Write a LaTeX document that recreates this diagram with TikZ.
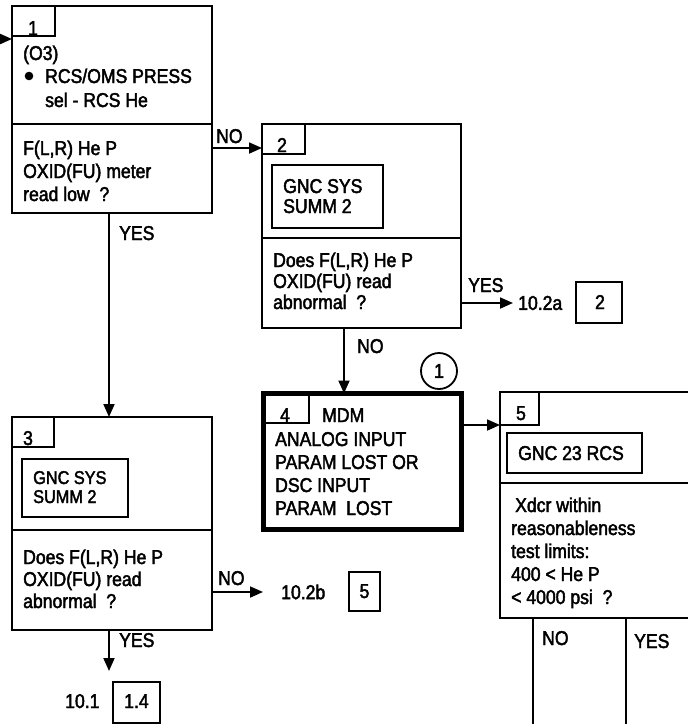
\documentclass[tikz,border=0pt]{standalone}
\usepackage{fontspec}
\setmainfont{Liberation Sans}[FakeStretch=0.88, FakeBold=2.2]
\usetikzlibrary{arrows.meta}
\begin{document}
\begin{tikzpicture}[x=1pt,y=-1pt,
  box/.style={draw, line width=1.8pt, rectangle, inner sep=0pt, outer sep=0pt, anchor=north west},
  thickbox/.style={box, line width=4.8pt},
  txt/.style={anchor=base west, inner sep=0pt, font=\fontsize{20}{23}\selectfont},
  smalltxt/.style={txt, font=\fontsize{18.5}{21}\selectfont},
  num/.style={anchor=base, inner sep=0pt, font=\fontsize{20}{23}\selectfont},
  arr/.style={line width=1.8pt, -{Triangle[length=13pt,width=11pt]}},
  ln/.style={line width=1.8pt}]
\useasboundingbox (0,0) rectangle (688,724);
\clip (0,0) rectangle (688,724);

% ---------- box 1 ----------
\node[box, minimum width=200pt, minimum height=118pt] (b1t) at (12,6) {};
\node[box, minimum width=200pt, minimum height=89pt] (b1b) at (12,124) {};
\node[box, minimum width=43pt, minimum height=30pt] (l1) at (12,6) {};
\node[num] (n1) at (33,35) {1};
\node[txt] (t1a) at (23,60) {(O3)};
\fill (29,76) circle (4.3pt);
\node[txt] (t1b) at (45,83) {RCS/OMS PRESS};
\node[txt] (t1c) at (45,107) {sel - RCS He};
\node[txt] (t1d) at (23,155) {F(L,R) He P};
\node[txt] (t1e) at (23,178) {OXID(FU) meter};
\node[txt] (t1f) at (23,201) {read low\ \ ?};

% ---------- box 2 ----------
\node[box, minimum width=199pt, minimum height=114pt] (b2t) at (262,124) {};
\node[box, minimum width=199pt, minimum height=90pt] (b2b) at (262,238) {};
\node[box, minimum width=43pt, minimum height=30pt] (l2) at (262,124) {};
\node[num] (n2) at (282,152) {2};
\node[box, minimum width=111pt, minimum height=63pt] (g2) at (272,165) {};
\node[txt] (t2a) at (283,193) {GNC SYS};
\node[txt] (t2b) at (283,213) {SUMM 2};
\node[txt] (t2c) at (273,267) {Does F(L,R) He P};
\node[txt] (t2d) at (273,288) {OXID(FU) read};
\node[txt] (t2e) at (273,309) {abnormal\ \ ?};

% ---------- box 3 ----------
\node[box, minimum width=200pt, minimum height=113pt] (b3t) at (12,417) {};
\node[box, minimum width=200pt, minimum height=100pt] (b3b) at (12,530) {};
\node[box, minimum width=42pt, minimum height=30pt] (l3) at (12,417) {};
\node[num] (n3) at (28,445) {3};
\node[box, minimum width=106pt, minimum height=58pt] (g3) at (22,459) {};
\node[smalltxt] (t3a) at (33,484) {GNC SYS};
\node[smalltxt] (t3b) at (33,503) {SUMM 2};
\node[txt] (t3c) at (23,564) {Does F(L,R) He P};
\node[txt] (t3d) at (23,586) {OXID(FU) read};
\node[txt] (t3e) at (23,608) {abnormal\ \ ?};

% ---------- box 4 ----------
\node[thickbox, minimum width=198pt, minimum height=136pt] (b4) at (263.5,393.5) {};
\node[box, minimum width=45.5pt, minimum height=29.5pt] (l4) at (263.5,393.5) {};
\node[num] (n4) at (285,422) {4};
\node[txt] (t4a) at (322,422) {MDM};
\node[txt] (t4b) at (275,446) {ANALOG INPUT};
\node[txt] (t4c) at (275,469) {PARAM LOST OR};
\node[txt] (t4d) at (275,492) {DSC INPUT};
\node[txt] (t4e) at (275,515) {PARAM\ \ LOST};
\node[draw, circle, line width=1.8pt, minimum size=36pt, inner sep=0pt,
      font=\fontsize{20}{23}\selectfont] (c1) at (439,371) {1};

% ---------- box 5 ----------
\node[box, minimum width=220pt, minimum height=91pt] (b5t) at (500,392) {};
\node[box, minimum width=220pt, minimum height=135pt] (b5b) at (500,483) {};
\node[box, minimum width=39pt, minimum height=33pt] (l5) at (500,392) {};
\node[num] (n5) at (521,420) {5};
\node[box, minimum width=135pt, minimum height=40pt] (g5) at (507,433) {};
\node[txt] (t5a) at (518,460) {GNC 23 RCS};
\node[txt] (t5b) at (515,512) {Xdcr within};
\node[txt] (t5c) at (511,535) {reasonableness};
\node[txt] (t5d) at (511,558) {test limits:};
\node[txt] (t5e) at (511,581) {400 < He P};
\node[txt] (t5f) at (511,604) {< 4000 psi\ \ ?};
\coordinate (e5no) at (533,740);
\coordinate (e5yes) at (626,740);
\draw[ln] (b5b.south west -| e5no) -- (e5no);
\draw[ln] (b5b.south west -| e5yes) -- (e5yes);
\node[txt] (no5) at (542,645) {NO};
\node[txt] (yes5) at (634,648) {YES};

% ---------- references ----------
\node[txt, anchor=west] (x2a) at (518,303) {10.2a};
\node[box, minimum width=46pt, minimum height=41pt] (r2a) at (576,282) {};
\node[num] (r2an) at (600,309) {2};
\node[txt, anchor=west] (x2b) at (281,592) {10.2b};
\node[box, minimum width=31pt, minimum height=39pt] (r2b) at (349,572) {};
\node[num] (r2bn) at (364.5,598) {5};
\node[txt] (x1) at (65,708) {10.1};
\node[box, minimum width=47pt, minimum height=41pt] (r14) at (113,682) {};
\node[num] (r14n) at (136.5,708) {1.4};

% ---------- connectors ----------
\coordinate (in1) at (-10,39);
\draw[arr] (in1) -- (in1 -| b1t.west);
\draw[arr] (b1b.east |- 0,148) -- (b2t.west |- 0,148);
\node[txt] (no1) at (216,143) {NO};
\draw[arr] (b1b.south -| 109,0) -- (b3t.north -| 109,0);
\node[txt] (yes1) at (119,240) {YES};
\draw[arr] (b2b.east |- x2a) -- ([xshift=-5pt]x2a.west);
\node[txt] (yes2) at (468,292) {YES};
\draw[arr] (b2b.south -| 344,0) -- (b4.north -| 344,0);
\node[txt] (no2) at (357,353) {NO};
\draw[arr] (b4.east |- 0,425) -- (b5t.west |- 0,425);
\draw[arr] (b3b.east |- x2b) -- ([xshift=-18pt]x2b.west);
\node[txt] (no3) at (218,585) {NO};
\coordinate (a3end) at (109,671);
\draw[arr] (b3b.south -| a3end) -- (a3end);
\node[txt] (yes3) at (119,647) {YES};
\end{tikzpicture}
\end{document}
